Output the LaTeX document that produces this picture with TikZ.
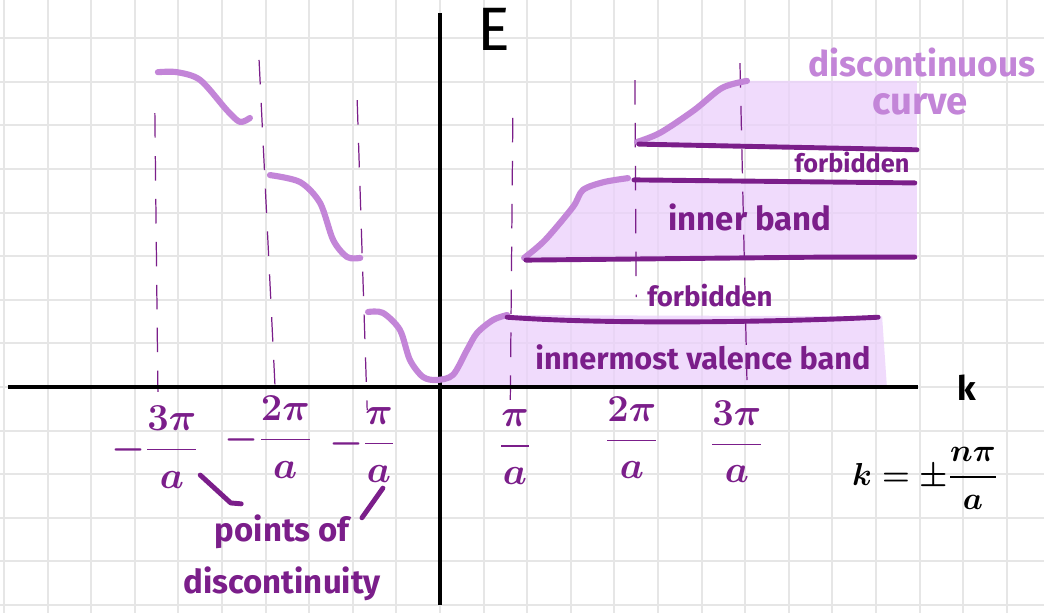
\documentclass[tikz,border=0pt]{standalone}
\usepackage{amsmath}
\usepackage{fontspec}
\setmainfont{Fira Sans}
\usepackage{tikz}
\usetikzlibrary{positioning}
\definecolor{bandpurple}{HTML}{7B1E8A}
\definecolor{curvelilac}{HTML}{C385D8}
\definecolor{bandfill}{HTML}{EBD0FB}
\definecolor{gridgray}{HTML}{E6E6E6}
\tikzset{
  grid line/.style={draw=gridgray, line width=1.2pt},
  axis line/.style={draw=black, line width=2.6pt},
  band curve/.style={
    draw=curvelilac,
    line width=4pt,
    line cap=round,
    line join=round
  },
  band edge/.style={draw=bandpurple, line width=3.2pt, line cap=round},
  band area/.style={fill=bandfill, fill opacity=0.75},
  zone guide/.style={draw=bandpurple, line width=0.8pt, dash pattern=on 16pt off 12pt},
  band label/.style={text=bandpurple, font=\fontsize{20}{22}\selectfont\bfseries},
  tick label/.style={text=bandpurple, font=\fontsize{23}{27}\selectfont\boldmath},
  pointer/.style={draw=bandpurple, line width=3.2pt, line cap=round, line join=round}
}

\begin{document}
\begin{tikzpicture}
  \useasboundingbox (-10.092,-5.183) rectangle (13.853,8.876);
  \fill[white] (-10.092,-5.183) rectangle (13.853,8.876);
  % Grid paper
  \draw[grid line] (-10.092,-5.183) grid (13.853,8.876);

  % Shaded bands
  \fill[band area] (-0.05,0) -- plot[smooth] coordinates {(-0.05,0.16) (0.30,0.28) (0.62,0.85) (0.85,1.24) (1.22,1.54) (1.54,1.65)}
    -- (10.14,1.62) -- (10.25,0) -- cycle;
  \fill[band area] plot[smooth] coordinates {(1.93,2.96) (2.41,3.37) (3.05,4.13) (3.28,4.52) (3.76,4.70) (4.31,4.79)}
    -- (10.94,4.72) -- (10.94,2.98) -- cycle;
  \fill[band area] plot[smooth] coordinates {(4.52,5.62) (5.05,5.83) (5.83,6.35) (6.47,6.86) (7.04,7.02)}
    -- (10.94,7.02) -- (10.94,5.44) -- (4.56,5.57) -- cycle;

  % Zone boundaries
  \draw[zone guide] (-6.54,6.28) -- (-6.47,-0.11);
  \draw[zone guide] (-4.15,7.50) -- (-3.78,-0.07);
  \draw[zone guide] (-1.90,6.58) -- (-1.67,-0.53);
  \draw[zone guide] (1.67,6.17) -- (1.61,-0.60);
  \draw[zone guide] (4.47,7.04) -- (4.50,2.06);
  \draw[zone guide] (6.88,7.43) -- (7.04,0.16);

  % Axes
  \draw[axis line] (-9.91,0) -- (10.96,0);
  \draw[axis line] (0,8.58) -- (0,-5.0);
  \node[font=\fontsize{40}{42}\selectfont] (elabel) at (1.24,8.21) {E};
  \node[font=\fontsize{22}{24}\selectfont\bfseries] (klabel) at (12.09,-0.02) {k};

  % Energy curve, left side
  \draw[band curve] plot[smooth] coordinates {(-6.47,7.22) (-6.03,7.22) (-5.50,7.04) (-4.89,6.35) (-4.59,6.08) (-4.36,6.17)};
  \draw[band curve] plot[smooth] coordinates {(-3.90,4.86) (-3.21,4.70) (-2.75,4.22) (-2.45,3.37) (-2.13,2.98) (-1.83,2.96)};
  \draw[band curve] plot[smooth] coordinates {(-1.65,1.72) (-1.31,1.70) (-0.92,1.31) (-0.69,0.62) (-0.39,0.23) (-0.07,0.16) (0.30,0.28) (0.62,0.85) (0.85,1.24) (1.22,1.54) (1.54,1.65)};

  % Energy curve, right side
  \draw[band curve] plot[smooth] coordinates {(1.93,2.96) (2.41,3.37) (3.05,4.13) (3.28,4.52) (3.76,4.70) (4.31,4.79)};
  \draw[band curve] plot[smooth] coordinates {(4.52,5.62) (5.05,5.83) (5.83,6.35) (6.47,6.86) (7.04,7.02)};

  % Band edges
  \draw[band edge] (1.54,1.60) .. controls (4,1.42) and (8,1.50) .. (10.05,1.60);
  \draw[band edge] (1.97,2.91) -- (8.90,2.98) -- (10.89,2.98);
  \draw[band edge] (4.45,4.75) -- (10.89,4.68);
  \draw[band edge] (4.56,5.57) -- (10.94,5.44);

  % Band names
  \node[band label] (valence) at (6.03,0.67) {innermost valence band};
  \node[band label, font=\fontsize{18}{20}\selectfont\bfseries] (gaplow) at (6.19,2.09) {forbidden};
  \node[band label, font=\fontsize{21.5}{23}\selectfont\bfseries] (inner) at (7.11,3.90) {inner band};
  \node[band label, font=\fontsize{16.5}{18}\selectfont\bfseries] (gaphigh) at (9.45,5.14) {forbidden};
  \node[text=curvelilac, font=\fontsize{23}{25}\selectfont\bfseries] (disc) at (11.06,7.45) {discontinuous};
  \node[text=curvelilac, font=\fontsize{25}{27}\selectfont\bfseries] (curve) at (11.01,6.49) {curve};

  % Zone boundaries on the k axis
  \node[tick label] (kneg3) at (-6.54,-1.38) {$-\dfrac{3\pi}{a}$};
  \node[tick label] (kneg2) at (-3.94,-1.15) {$-\dfrac{2\pi}{a}$};
  \node[tick label] (kneg1) at (-1.79,-1.33) {$-\dfrac{\pi}{a}$};
  \node[tick label] (kpos1) at (1.72,-1.38) {$\dfrac{\pi}{a}$};
  \node[tick label] (kpos2) at (4.40,-1.17) {$\dfrac{2\pi}{a}$};
  \node[tick label] (kpos3) at (6.81,-1.26) {$\dfrac{3\pi}{a}$};
  \node[font=\fontsize{20}{24}\selectfont\boldmath] (rule) at (11.12,-2.09) {$k=\pm\dfrac{n\pi}{a}$};

  % Points of discontinuity
  \node[band label, font=\fontsize{21.5}{34}\selectfont\bfseries, align=center] (pod) at (-3.62,-3.92) {points of\\discontinuity};
  \coordinate (podleft) at (-4.80,-2.66);
  \coordinate (podright) at (-1.79,-3.00);
  \draw[pointer] (-5.50,-2.02) -- (podleft) -- (-4.56,-2.68);
  \draw[pointer] (-1.31,-2.32) -- (podright);
\end{tikzpicture}
\end{document}
